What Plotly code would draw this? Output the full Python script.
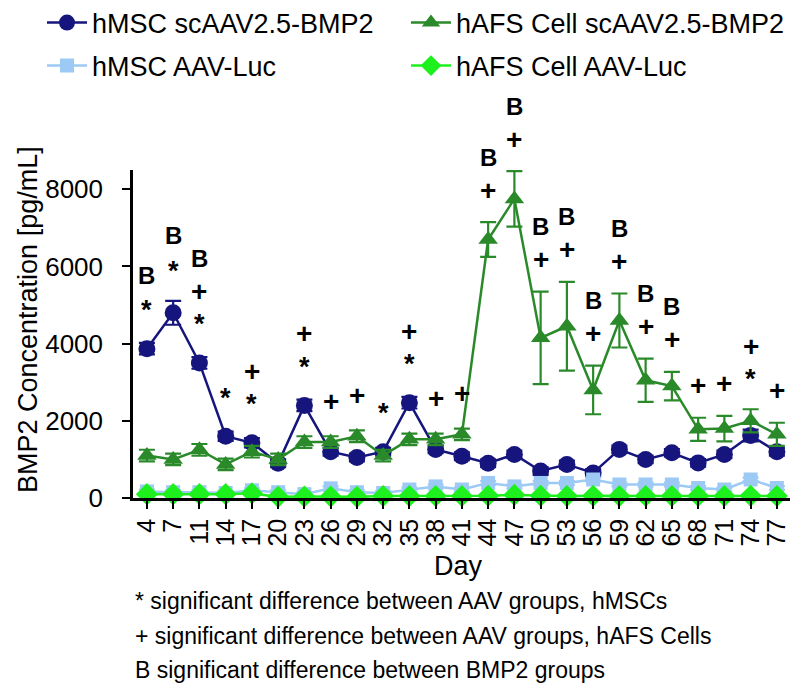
import plotly.graph_objects as go

# ---------------- data ----------------
days = ["4", "7", "11", "14", "17", "20", "23", "26", "29", "32", "35", "38", "41",
        "44", "47", "50", "53", "56", "59", "62", "65", "68", "71", "74", "77"]

hmsc_bmp2 = [3870, 4800, 3500, 1600, 1430, 900, 2400, 1200, 1050, 1200, 2470, 1260, 1080,
             900, 1130, 700, 870, 650, 1260, 1000, 1170, 910, 1130, 1620, 1200]
hmsc_bmp2_err = [150, 310, 150, 120, 120, 100, 150, 100, 100, 100, 150, 100, 100,
                 100, 100, 100, 100, 100, 100, 100, 100, 100, 100, 150, 100]

hafs_bmp2 = [1100, 1000, 1250, 870, 1200, 1000, 1450, 1450, 1600, 1100, 1520, 1520, 1650,
             6700, 7750, 4150, 4450, 2800, 4600, 3050, 2900, 1780, 1800, 2000, 1650]
hafs_bmp2_err = [150, 150, 150, 150, 150, 150, 150, 150, 150, 150, 150, 150, 150,
                 450, 720, 1200, 1150, 630, 700, 560, 370, 300, 330, 300, 300]

hmsc_luc = [170, 150, 150, 130, 200, 150, 100, 250, 150, 130, 220, 300, 220,
            390, 300, 390, 390, 480, 350, 350, 350, 260, 220, 480, 260]
hmsc_luc_err = [50] * 25

hafs_luc = [100, 100, 100, 100, 120, 30, 40, 40, 30, 50, 50, 50, 50,
            60, 80, 60, 50, 60, 50, 50, 50, 50, 50, 60, 50]
hafs_luc_err = [30] * 25

# significance marks per day, listed bottom -> top
sig_marks = ["*B", "*B", "*+B", "*", "*+", "", "*+", "+", "+", "*", "*+", "+", "+",
             "+B", "+B", "+B", "+B", "+B", "+B", "+B", "+B", "+", "+", "*+", "+"]

y_ticks = [0, 2000, 4000, 6000, 8000]

footnotes = ["* significant difference between AAV groups, hMSCs",
             "+ significant difference between AAV groups, hAFS Cells",
             "B significant difference between BMP2 groups"]

# ---------------- layout constants ----------------
FONT = "Liberation Sans, Arial, Helvetica, sans-serif"
W, H = 800, 693
ML, MR, MT, MB = 133, 10, 170, 195
PW, PH = W - ML - MR, H - MT - MB
YMAX = 8500
UPP = YMAX / PH  # data units per pixel

NAVY = "#15157d"
GREEN = "#2a8a2a"
LBLUE = "#9dcaf5"
LGREEN = "#1ef01e"

fig = go.Figure()

series = [
    ("hMSC scAAV2.5-BMP2", hmsc_bmp2, hmsc_bmp2_err, NAVY, "circle", 17, "legend", 42, 23),
    ("hAFS Cell scAAV2.5-BMP2", hafs_bmp2, hafs_bmp2_err, GREEN, "triangle-up", 17, "legend2", 406, 23),
    ("hMSC AAV-Luc", hmsc_luc, hmsc_luc_err, LBLUE, "square", 14, "legend3", 42, 66),
    ("hAFS Cell AAV-Luc", hafs_luc, hafs_luc_err, LGREEN, "diamond", 17, "legend4", 406, 66),
]

legends = {}
for name, vals, errs, col, sym, size, lg, lx, ly in series:
    fig.add_trace(go.Scatter(
        x=days, y=vals, name=name, mode="lines+markers",
        line=dict(color=col, width=2.5),
        marker=dict(symbol=sym, size=size, color=col, line=dict(width=0)),
        error_y=dict(type="data", array=errs, visible=True, color=col,
                     thickness=2.2, width=8),
        cliponaxis=False, legend=lg,
    ))
    legends[lg] = dict(orientation="h", xref="container", yref="container",
                       x=lx / W, y=1 - ly / H, xanchor="left", yanchor="middle",
                       font=dict(size=27), bgcolor="rgba(0,0,0,0)", itemwidth=40)

fig.update_layout(
    width=W, height=H,
    margin=dict(l=ML, r=MR, t=MT, b=MB, pad=0),
    paper_bgcolor="white", plot_bgcolor="white",
    font=dict(family=FONT, color="black"),
    xaxis=dict(type="category", range=[-0.53, 24.5], tickangle=-90,
               tickmode="array", tickvals=days, ticktext=days,
               ticks="outside", ticklen=8, tickwidth=2, tickcolor="black",
               showline=True, linecolor="black", linewidth=2.5,
               showgrid=False, zeroline=False, tickfont=dict(size=25)),
    yaxis=dict(range=[0, YMAX], tickvals=y_ticks, ticks="outside", ticklen=8,
               tickwidth=2, tickcolor="black", showline=True, linecolor="black",
               linewidth=2.5, showgrid=False, zeroline=False,
               tickfont=dict(size=26), ticklabelstandoff=14),
    showlegend=True,
    **legends,
)

def px_x(p):
    return (p - ML) / PW

def px_y(p):
    return (H - MB - p) / PH

ann = []
ann.append(dict(text="BMP2 Concentration [pg/mL]", x=px_x(28), y=px_y(320),
                xref="paper", yref="paper", textangle=-90, showarrow=False,
                font=dict(size=27), xanchor="center", yanchor="middle"))
ann.append(dict(text="Day", x=px_x(458), y=px_y(566), xref="paper", yref="paper",
                showarrow=False, font=dict(size=27), xanchor="center", yanchor="middle"))
for i, (txt, py) in enumerate(zip(footnotes, [601, 636, 670])):
    ann.append(dict(text=txt, x=px_x(133), y=px_y(py), xref="paper", yref="paper",
                    showarrow=False, font=dict(size=23), xanchor="left", yanchor="middle"))

# significance marks placed above the highest mark / error bar of each day
first_gap = {"*": 38, "+": 32}
step = {("*", "+"): 25, ("*", "B"): 27, ("+", "B"): 33}
glyph_corr = {"*": -8, "+": 0, "B": 0}
glyph_size = {"*": 27, "+": 28, "B": 24}
for i, marks in enumerate(sig_marks):
    if not marks:
        continue
    tops = []
    for name, vals, errs, col, sym, size, lg, lx, ly in series:
        tops.append(vals[i] + errs[i])
        tops.append(vals[i] + (size / 2) * UPP)
    anchor = max(tops)
    off = 0
    prev = None
    for m in marks:
        if prev is None:
            off = first_gap[m]
        else:
            off += step[(prev, m)]
        ann.append(dict(text="<b>" + m + "</b>", x=i, y=anchor, xref="x", yref="y",
                        yshift=off + glyph_corr[m], showarrow=False,
                        font=dict(size=glyph_size[m]), xanchor="center", yanchor="middle"))
        prev = m

fig.update_layout(annotations=ann)

fig.write_html("out.html", config={"displayModeBar": False},
               post_script="document.body.style.margin='0';")
